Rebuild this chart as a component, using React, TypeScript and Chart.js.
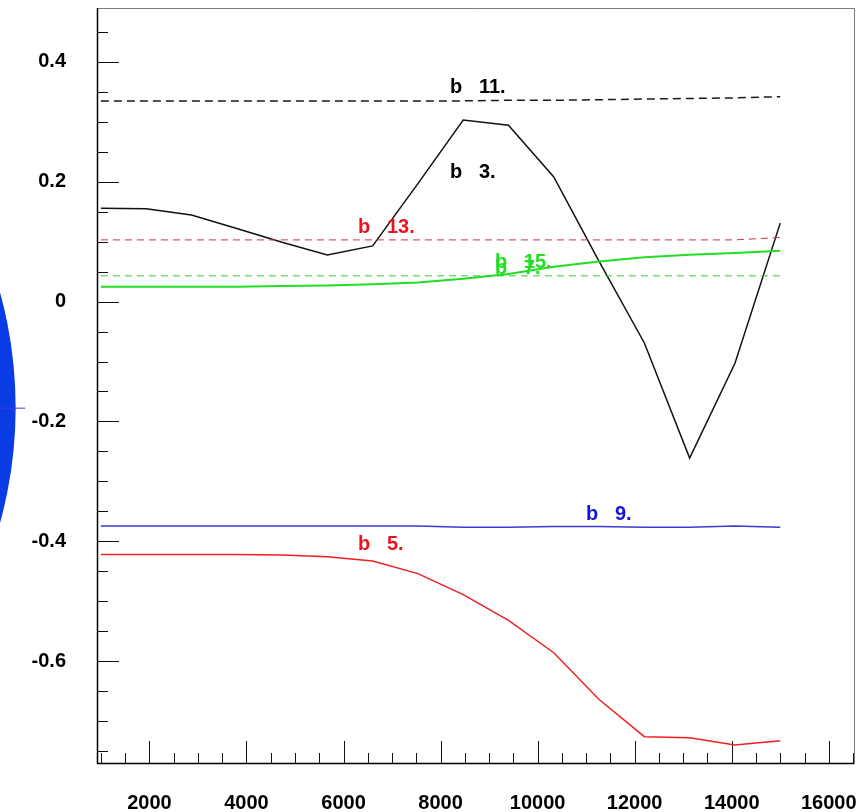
import React, { useEffect, useRef } from "react";
import { Chart, registerables } from "chart.js";

Chart.register(...registerables);

// ---- data ----
const xValues = [1000, 1933, 2867, 3800, 4733, 5667, 6600, 7533, 8467, 9400, 10333, 11267, 12200, 13133, 14067, 15000];

const b3Values = [0.156, 0.155, 0.1445, 0.122, 0.099, 0.078, 0.093, 0.197, 0.303, 0.2945, 0.208, 0.067, -0.069, -0.261, -0.103, 0.131];
const b11Values = [0.335, 0.335, 0.335, 0.335, 0.335, 0.335, 0.335, 0.335, 0.335, 0.336, 0.336, 0.337, 0.338, 0.339, 0.34, 0.342];
const b5Values = [-0.422, -0.422, -0.422, -0.422, -0.423, -0.426, -0.433, -0.454, -0.489, -0.532, -0.586, -0.664, -0.726, -0.728, -0.74, -0.733];
const b13Values = [0.103, 0.103, 0.103, 0.103, 0.103, 0.103, 0.103, 0.103, 0.103, 0.103, 0.103, 0.103, 0.103, 0.103, 0.103, 0.107];
const b7Values = [0.025, 0.025, 0.025, 0.025, 0.026, 0.027, 0.029, 0.032, 0.038, 0.046, 0.058, 0.067, 0.074, 0.078, 0.081, 0.085];
const b15Values = [0.043, 0.043, 0.043, 0.043, 0.043, 0.043, 0.043, 0.043, 0.043, 0.043, 0.043, 0.043, 0.043, 0.043, 0.043, 0.043];
const b9Values = [-0.3745, -0.3745, -0.3745, -0.3745, -0.3745, -0.3745, -0.3745, -0.3745, -0.3765, -0.3765, -0.3755, -0.3755, -0.3765, -0.3765, -0.3745, -0.3765];

const xMajorTicks = [2000, 4000, 6000, 8000, 10000, 12000, 14000, 16000];
const yMajorTicks = [-0.6, -0.4, -0.2, 0, 0.2, 0.4];

// text annotations (data coordinates of the left end / baseline)
const labelTexts = ["b   11.", "b   3.", "b   13.", "b   7.", "b   15.", "b   9.", "b   5."];
const labelXs = [8196, 8196, 6300, 9120, 9120, 10999, 6300];
const labelYs = [0.348, 0.206, 0.1145, 0.046, 0.056, -0.364, -0.414];
const labelColors = ["#000000", "#000000", "#e8141e", "#22dd22", "#22dd22", "#1414d8", "#e8141e"];

// big blue marker partly visible left of the frame
const markerX = -9700;
const markerY = -0.177;
const markerBarEndX = -560;

const FONT = '"Liberation Sans", Arial, Helvetica, sans-serif';

const rootFramePlugin = {
  id: "rootFrame",
  beforeDatasetsDraw(chart: any) {
    const { ctx, chartArea: a, scales } = chart;
    const x = scales.x;
    const y = scales.y;
    ctx.save();
    // blue marker
    const cx = x.getPixelForValue(markerX);
    const cy = y.getPixelForValue(markerY);
    ctx.fillStyle = "#0a3ce6";
    ctx.beginPath();
    ctx.arc(cx, cy, 434, 0, Math.PI * 2);
    ctx.fill();
    ctx.strokeStyle = "#3b3bee";
    ctx.lineWidth = 1;
    ctx.beginPath();
    ctx.moveTo(cx, cy + 0.5);
    ctx.lineTo(x.getPixelForValue(markerBarEndX), cy + 0.5);
    ctx.stroke();

    // frame
    ctx.strokeStyle = "#7a7a7a";
    ctx.lineWidth = 1;
    ctx.beginPath();
    ctx.moveTo(a.left, a.top + 0.5);
    ctx.lineTo(a.right + 0.5, a.top + 0.5);
    ctx.lineTo(a.right + 0.5, a.bottom);
    ctx.stroke();
    ctx.strokeStyle = "#000000";
    ctx.lineWidth = 1.5;
    ctx.beginPath();
    ctx.moveTo(a.left + 0.5, a.top);
    ctx.lineTo(a.left + 0.5, a.bottom + 0.5);
    ctx.lineTo(a.right + 0.5, a.bottom + 0.5);
    ctx.stroke();

    // ticks (inside the frame)
    ctx.lineWidth = 1;
    ctx.strokeStyle = "#111111";
    ctx.beginPath();
    for (let k = -15; k <= 9; k++) {
      const v = k * 0.05;
      if (v < y.min || v > y.max) continue;
      const py = Math.round(y.getPixelForValue(v)) + 0.5;
      const len = k % 4 === 0 ? 22 : 11;
      ctx.moveTo(a.left, py);
      ctx.lineTo(a.left + len, py);
    }
    for (let k = 2; k <= 33; k++) {
      const v = k * 500;
      if (v < x.min || v > x.max) continue;
      const px = Math.round(x.getPixelForValue(v)) + 0.5;
      const len = k % 4 === 0 ? 22 : 10;
      ctx.moveTo(px, a.bottom);
      ctx.lineTo(px, a.bottom - len);
    }
    ctx.stroke();
    ctx.restore();
  },
  afterDatasetsDraw(chart: any) {
    const { ctx, scales } = chart;
    const x = scales.x;
    const y = scales.y;
    ctx.save();
    ctx.font = `bold 20px ${FONT}`;
    ctx.textAlign = "left";
    ctx.textBaseline = "alphabetic";
    labelTexts.forEach((t, i) => {
      ctx.fillStyle = labelColors[i];
      ctx.fillText(t, x.getPixelForValue(labelXs[i]), y.getPixelForValue(labelYs[i]));
    });
    ctx.restore();
  },
};

function series(values: number[]) {
  return values.map((v, i) => ({ x: xValues[i], y: v }));
}

export default function App() {
  const canvasRef = useRef<HTMLCanvasElement | null>(null);

  useEffect(() => {
    const canvas = canvasRef.current;
    if (!canvas) return;
    const mk = (label: string, values: number[], color: string, width: number, dash: number[] = []) => ({
      label,
      data: series(values),
      borderColor: color,
      backgroundColor: color,
      borderWidth: width,
      borderDash: dash,
      pointRadius: 0,
      tension: 0,
      fill: false,
    });
    const chart = new Chart(canvas, {
      type: "line",
      data: {
        datasets: [
          mk("b 11", b11Values, "#1a1a1a", 1.5, [8, 5]),
          mk("b 13", b13Values, "#cc3344", 1, [7, 5]),
          mk("b 15", b15Values, "#33cc33", 1, [7, 5]),
          mk("b 7", b7Values, "#22dd22", 2),
          mk("b 9", b9Values, "#3a3ad0", 1.5),
          mk("b 5", b5Values, "#ee2020", 1.5),
          mk("b 3", b3Values, "#111111", 1.5),
        ],
      },
      options: {
        animation: false,
        responsive: false,
        maintainAspectRatio: false,
        layout: { padding: { left: 0, top: 8, right: 2, bottom: 0 } },
        plugins: {
          legend: { display: false },
          tooltip: { enabled: false },
        },
        scales: {
          x: {
            type: "linear",
            min: 920,
            max: 16520,
            grid: { display: false, drawTicks: false },
            border: { display: false },
            ticks: {
              autoSkip: false,
              maxRotation: 0,
              padding: 28,
              color: "#000000",
              font: { family: FONT, size: 20, weight: "bold" },
              callback: (v: any) => String(Math.round(Number(v))),
            },
            afterBuildTicks: (scale: any) => {
              scale.ticks = xMajorTicks.map((value) => ({ value }));
            },
            afterFit: (scale: any) => {
              scale.height = 49;
              scale.paddingLeft = 0;
              scale.paddingRight = 0;
            },
          },
          y: {
            type: "linear",
            min: -0.77,
            max: 0.49,
            grid: { display: false, drawTicks: false },
            border: { display: false },
            ticks: {
              autoSkip: false,
              padding: 31,
              color: "#000000",
              font: { family: FONT, size: 20, weight: "bold" },
              callback: (v: any) => {
                const n = Number(v);
                return Math.abs(n) < 1e-9 ? "0" : n.toFixed(1);
              },
            },
            afterBuildTicks: (scale: any) => {
              scale.ticks = yMajorTicks.map((value) => ({ value }));
            },
            afterFit: (scale: any) => {
              scale.width = 97;
              scale.paddingTop = 0;
              scale.paddingBottom = 0;
            },
          },
        },
      },
      plugins: [rootFramePlugin],
    } as any);
    return () => chart.destroy();
  }, []);

  return (
    <div style={{ position: "fixed", left: 0, top: 0, width: 856, height: 812, background: "#ffffff" }}>
      <canvas ref={canvasRef} width={856} height={812} style={{ width: 856, height: 812, display: "block" }} />
    </div>
  );
}
